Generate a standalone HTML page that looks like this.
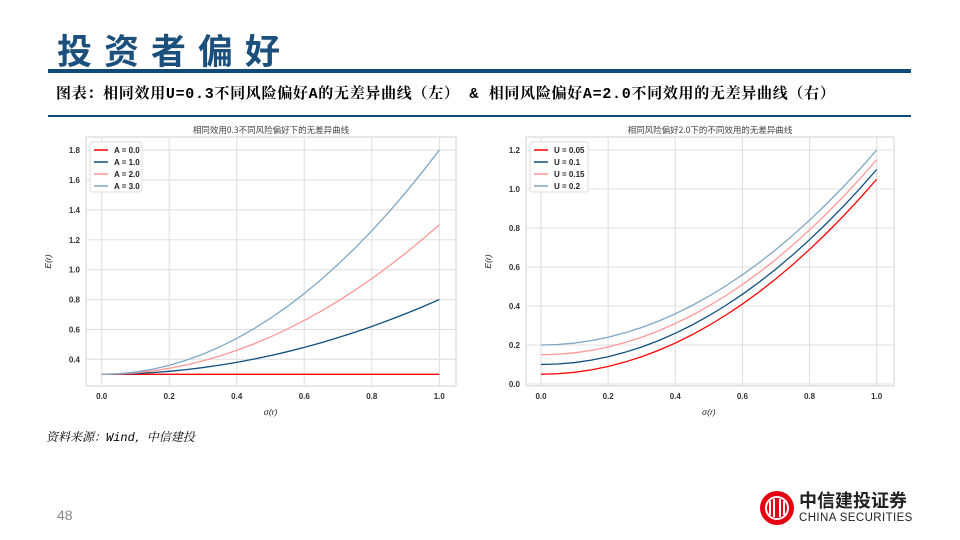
<!DOCTYPE html>
<html><head><meta charset="utf-8"><style>
body{margin:0;width:960px;height:540px;background:#fff;position:relative;overflow:hidden;font-family:"Liberation Sans","Noto Sans CJK SC",sans-serif}
.abs{position:absolute}
</style></head><body>
<div class="abs" style="left:57px;top:26px;font-size:35px;font-weight:bold;color:#1b4f7c;letter-spacing:12px;font-family:'Noto Sans CJK SC',sans-serif;line-height:48px">投资者偏好</div>
<div class="abs" style="left:48px;top:69px;width:863px;height:4px;background:#0e4a7a"></div>
<div class="abs" style="left:56px;top:84px;font-size:15px;letter-spacing:0.7px;font-weight:bold;color:#000;font-family:'Liberation Mono','Noto Serif CJK SC',serif;line-height:22px;white-space:nowrap">图表：相同效用U=0.3不同风险偏好A的无差异曲线（左） &amp; 相同风险偏好A=2.0不同效用的无差异曲线（右）</div>
<div class="abs" style="left:48px;top:115px;width:863px;height:2px;background:#0e4a7a"></div>
<div class="abs" style="left:46px;top:428px;font-size:12px;font-style:italic;color:#000;font-family:'Liberation Mono','Noto Serif CJK SC',serif">资料来源：Wind，中信建投</div>
<div class="abs" style="left:57px;top:507px;font-size:14px;color:#888">48</div>
<div class="abs" style="left:757px;top:489px;width:160px;height:40px">
<svg width="160" height="40"><circle cx="20" cy="19" r="17" fill="#e60012"/><circle cx="20" cy="19" r="11" fill="none" stroke="#fff" stroke-width="2"/><path d="M13 12v14M17 10v18M23 10v18M27 12v14" stroke="#fff" stroke-width="2"/></svg>
<div class="abs" style="left:42px;top:1px;font-size:18px;font-weight:bold;font-family:'Noto Sans CJK SC',sans-serif;color:#222;line-height:20px">中信建投证券</div>
<div class="abs" style="left:42px;top:23px;font-size:11.5px;color:#222;white-space:nowrap;letter-spacing:0.4px">CHINA SECURITIES</div>
</div>
<svg class="abs" id="chart" style="left:0;top:0" width="960" height="540"></svg>
<script>
const sigma=[0,0.05,0.1,0.15,0.2,0.25,0.3,0.35,0.4,0.45,0.5,0.55,0.6,0.65,0.7,0.75,0.8,0.85,0.9,0.95,1];
const leftLabels=["A = 0.0","A = 1.0","A = 2.0","A = 3.0"];
const leftA0=[0.3,0.3,0.3,0.3,0.3,0.3,0.3,0.3,0.3,0.3,0.3,0.3,0.3,0.3,0.3,0.3,0.3,0.3,0.3,0.3,0.3];
const leftA1=[0.3,0.30125,0.305,0.31125,0.32,0.33125,0.345,0.36125,0.38,0.40125,0.425,0.45125,0.48,0.51125,0.545,0.58125,0.62,0.66125,0.705,0.75125,0.8];
const leftA2=[0.3,0.3025,0.31,0.3225,0.34,0.3625,0.39,0.4225,0.46,0.5025,0.55,0.6025,0.66,0.7225,0.79,0.8625,0.94,1.0225,1.11,1.2025,1.3];
const leftA3=[0.3,0.30375,0.315,0.33375,0.36,0.39375,0.435,0.48375,0.54,0.60375,0.675,0.75375,0.84,0.93375,1.035,1.14375,1.26,1.38375,1.515,1.65375,1.8];
const rightLabels=["U = 0.05","U = 0.1","U = 0.15","U = 0.2"];
const rightU1=[0.05,0.0525,0.06,0.0725,0.09,0.1125,0.14,0.1725,0.21,0.2525,0.3,0.3525,0.41,0.4725,0.54,0.6125,0.69,0.7725,0.86,0.9525,1.05];
const rightU2=[0.1,0.1025,0.11,0.1225,0.14,0.1625,0.19,0.2225,0.26,0.3025,0.35,0.4025,0.46,0.5225,0.59,0.6625,0.74,0.8225,0.91,1.0025,1.1];
const rightU3=[0.15,0.1525,0.16,0.1725,0.19,0.2125,0.24,0.2725,0.31,0.3525,0.4,0.4525,0.51,0.5725,0.64,0.7125,0.79,0.8725,0.96,1.0525,1.15];
const rightU4=[0.2,0.2025,0.21,0.2225,0.24,0.2625,0.29,0.3225,0.36,0.4025,0.45,0.5025,0.56,0.6225,0.69,0.7625,0.84,0.9225,1.01,1.1025,1.2];
const xTicks=[0,0.2,0.4,0.6,0.8,1.0];
const leftYTicks=[0.4,0.6,0.8,1.0,1.2,1.4,1.6,1.8];
const rightYTicks=[0,0.2,0.4,0.6,0.8,1.0,1.2];
const colors=["#ff0000","#0e4f7e","#ff9896","#7fa6c4"];
const svg=document.getElementById('chart');
const NS="http://www.w3.org/2000/svg";
function mk(tag,attrs,parent){const e=document.createElementNS(NS,tag);for(const k in attrs)e.setAttribute(k,attrs[k]);(parent||svg).appendChild(e);return e;}
function draw(cfg){
  const g=mk('g',{});
  
  
  const sx=v=>cfg.x0+(cfg.x1-cfg.x0)*v;
  const sy=v=>cfg.yb-(v-cfg.yv0)*cfg.yk;
  mk('rect',{x:cfg.L,y:cfg.T,width:cfg.R-cfg.L,height:cfg.B-cfg.T,fill:'#fff',stroke:'#d8d8d8','stroke-width':1.2},g);
  xTicks.forEach(t=>{
    const gl=mk('line',{x1:sx(t),x2:sx(t),y1:cfg.T,y2:cfg.B,stroke:'#e0e0e0','stroke-width':1.1},g);
    
    
    const tx=mk('text',{x:sx(t),y:cfg.B+13,'font-size':8,'font-weight':'bold','text-anchor':'middle',fill:'#333'},g);
    tx.textContent=t.toFixed(1);
    
    
  });
  cfg.yTicks.forEach(t=>{
    const gl=mk('line',{x1:cfg.L,x2:cfg.R,y1:sy(t),y2:sy(t),stroke:'#e0e0e0','stroke-width':1.1},g);
    
    
    const tx=mk('text',{x:cfg.L-6,y:sy(t)+3,'font-size':8,'font-weight':'bold','text-anchor':'end',fill:'#333'},g);
    tx.textContent=t.toFixed(1);
    
    
  });
  cfg.series.forEach((s,i)=>{
    const d=s.map((v,j)=>(j?'L':'M')+sx(sigma[j]).toFixed(2)+' '+sy(v).toFixed(2)).join(' ');
    const p=mk('path',{d:d,fill:'none',stroke:colors[i],'stroke-width':1.3},g);
    
    
  });
  const lg=mk('g',{},g);
  
  
  mk('rect',{x:cfg.L+4,y:cfg.T+5,width:cfg.legW,height:50,fill:'#fff',stroke:'#ddd',rx:2},lg);
  cfg.labels.forEach((lab,i)=>{
    const y=cfg.T+13+i*12;
    mk('line',{x1:cfg.L+8,x2:cfg.L+22,y1:y,y2:y,stroke:colors[i],'stroke-width':1.5},lg);
    const t=mk('text',{x:cfg.L+28,y:y+3,'font-size':8,'font-weight':'bold',fill:'#222'},lg);
    t.textContent=lab;
    
    
  });
  const tt=mk('text',{x:(cfg.L+cfg.R)/2,y:cfg.T-4,'font-size':8.5,'text-anchor':'middle',fill:'#444','font-family':'"Noto Sans CJK SC",sans-serif'},g);
  tt.textContent=cfg.title;
  
  
  const xt=mk('text',{x:(cfg.x0+cfg.x1)/2,y:cfg.B+29,'font-size':8.5,'font-style':'italic','text-anchor':'middle',fill:'#222'},g);
  xt.textContent='σ(r)';
  
  
  const yx=cfg.L-35, yy=(cfg.T+cfg.B)/2;
  const yt=mk('text',{x:yx,y:yy,'font-size':8.5,'font-style':'italic','text-anchor':'middle',fill:'#222',transform:`rotate(-90 ${yx} ${yy})`},g);
  yt.textContent='E(r)';
  
  
}
draw({name:'left-chart',L:86,R:456,T:137,B:386,x0:101.7,x1:439.3,yb:374.3,yv0:0.3,yk:149.5,yTicks:leftYTicks,series:[leftA0,leftA1,leftA2,leftA3],labels:leftLabels,legW:52,title:'相同效用0.3不同风险偏好下的无差异曲线'});
draw({name:'right-chart',L:526,R:894,T:137,B:386,x0:541,x1:876.7,yb:384,yv0:0,yk:195,yTicks:rightYTicks,series:[rightU1,rightU2,rightU3,rightU4],labels:rightLabels,legW:58,title:'相同风险偏好2.0下的不同效用的无差异曲线'});
</script>
</body></html>
